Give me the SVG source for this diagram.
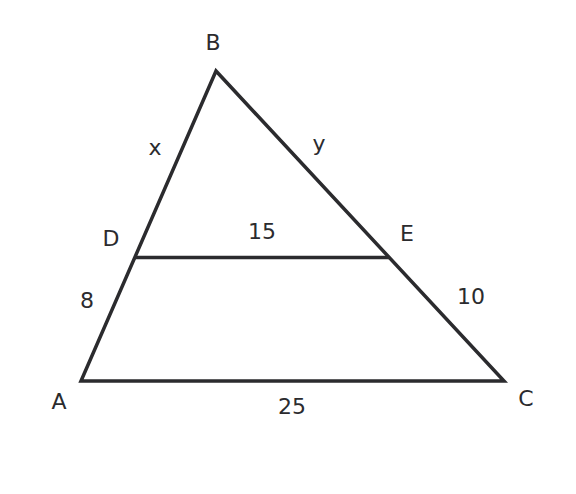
<svg xmlns="http://www.w3.org/2000/svg" width="576" height="494" viewBox="0 0 576 494">
<style>
.l{stroke:#2b2b2e;stroke-width:3.5;fill:none;stroke-linejoin:miter}
.t{font-family:"DejaVu Sans",sans-serif;font-size:22px;fill:#2b2b2e;text-anchor:middle;dominant-baseline:central}
</style>
<rect width="576" height="494" fill="#fff"/>
<polygon class="l" points="216,71 81,381 504,381"/>
<line class="l" x1="135" y1="257.5" x2="389" y2="257.5"/>
<text class="t" x="213" y="42">B</text>
<text class="t" x="155" y="147">x</text>
<text class="t" x="319" y="143">y</text>
<text class="t" x="111" y="238">D</text>
<text class="t" x="262" y="231">15</text>
<text class="t" x="407" y="233">E</text>
<text class="t" x="87" y="300">8</text>
<text class="t" x="471" y="296">10</text>
<text class="t" x="59" y="401">A</text>
<text class="t" x="292" y="406">25</text>
<text class="t" x="526" y="398">C</text>
</svg>
